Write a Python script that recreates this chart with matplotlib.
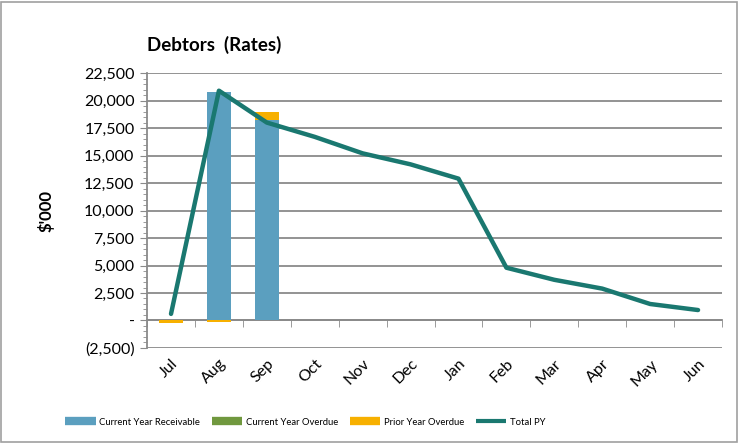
import matplotlib.pyplot as plt
from matplotlib.ticker import FuncFormatter, MultipleLocator, FixedLocator
from matplotlib.patches import Rectangle

plt.rcParams['font.family'] = ['Lato', 'DejaVu Sans']

months = ['Jul', 'Aug', 'Sep', 'Oct', 'Nov', 'Dec', 'Jan', 'Feb', 'Mar', 'Apr', 'May', 'Jun']
cy_receivable = [0, 20800, 18200, 0, 0, 0, 0, 0, 0, 0, 0, 0]
cy_overdue = [0, 0, 0, 0, 0, 0, 0, 0, 0, 0, 0, 0]
py_overdue = [-200, -100, 800, 0, 0, 0, 0, 0, 0, 0, 0, 0]
total_py = [600, 20900, 18000, 16700, 15200, 14200, 12900, 4800, 3700, 2900, 1500, 950]

c_blue = '#5b9fbf'
c_green = '#70983e'
c_orange = '#f7b000'
c_teal = '#1a7870'
c_grid = '#8a8a8a'


def fmt(v, pos):
    if abs(v) < 1e-6:
        return '-'
    if v < 0:
        return '({:,.0f})'.format(-v)
    return '{:,.0f}'.format(v)


fig = plt.figure(figsize=(7.39, 4.43), dpi=100)
fig.patches.append(Rectangle((0.002, 0.003), 0.995, 0.992, transform=fig.transFigure,
                             fill=False, edgecolor='#a0a0a0', linewidth=1.2))
ax = fig.add_axes([0.199, 0.2145, 0.778, 0.6205])

x = list(range(len(months)))

# stacked bars: positive values stack upward, negatives downward
pos_base = [0.0] * len(x)
neg_base = [0.0] * len(x)
for vals, col in [(cy_receivable, c_blue), (cy_overdue, c_green), (py_overdue, c_orange)]:
    bottoms = []
    for i, v in enumerate(vals):
        if v >= 0:
            bottoms.append(pos_base[i])
            pos_base[i] += v
        else:
            bottoms.append(neg_base[i])
            neg_base[i] += v
    ax.bar(x, vals, width=0.5, bottom=bottoms, color=col, zorder=3)

ax.plot(x, total_py, color=c_teal, linewidth=3.2, zorder=4, solid_capstyle='round')

ax.set_xlim(-0.5, 11.5)
ax.set_ylim(-2500, 22500)
ax.yaxis.set_major_locator(MultipleLocator(2500))
ax.yaxis.set_minor_locator(MultipleLocator(500))
ax.yaxis.set_major_formatter(FuncFormatter(fmt))
ax.grid(axis='y', color=c_grid, linewidth=1.3, zorder=1)

for s in ['top', 'right']:
    ax.spines[s].set_visible(False)
ax.spines['left'].set_color(c_grid)
ax.spines['left'].set_linewidth(1.3)
ax.spines['bottom'].set_position(('data', 0))
ax.spines['bottom'].set_color(c_grid)
ax.spines['bottom'].set_linewidth(1.3)

ax.tick_params(axis='y', which='major', length=5, color=c_grid, labelsize=11.5, pad=4)
ax.tick_params(axis='y', which='minor', length=3, color=c_grid)
ax.set_xticks(x)
ax.set_xticklabels(months, rotation=45, ha='right', rotation_mode='anchor', fontsize=11.5)
ax.tick_params(axis='x', which='major', length=0, pad=26)
ax.xaxis.set_minor_locator(FixedLocator([i + 0.5 for i in range(-1, 12)]))
ax.tick_params(axis='x', which='minor', length=5, color=c_grid)

ax.set_ylabel("$'000", fontsize=12, fontweight='bold', labelpad=21)
fig.text(0.199, 0.885, 'Debtors  (Rates)', fontsize=13.5, fontweight='bold')

handles = [
    plt.Line2D([], [], color=c_blue, linewidth=6, solid_capstyle='butt'),
    plt.Line2D([], [], color=c_green, linewidth=6, solid_capstyle='butt'),
    plt.Line2D([], [], color=c_orange, linewidth=6, solid_capstyle='butt'),
    plt.Line2D([], [], color=c_teal, linewidth=3, solid_capstyle='butt'),
]
labels = ['Current Year Receivable', 'Current Year Overdue', 'Prior Year Overdue', 'Total PY']
fig.legend(handles, labels, loc='center', bbox_to_anchor=(0.413, 0.047), ncol=4,
           frameon=False, fontsize=6.8, handlelength=3.2, columnspacing=1.3,
           handletextpad=0.35)

fig.savefig('out.png', dpi=100)
